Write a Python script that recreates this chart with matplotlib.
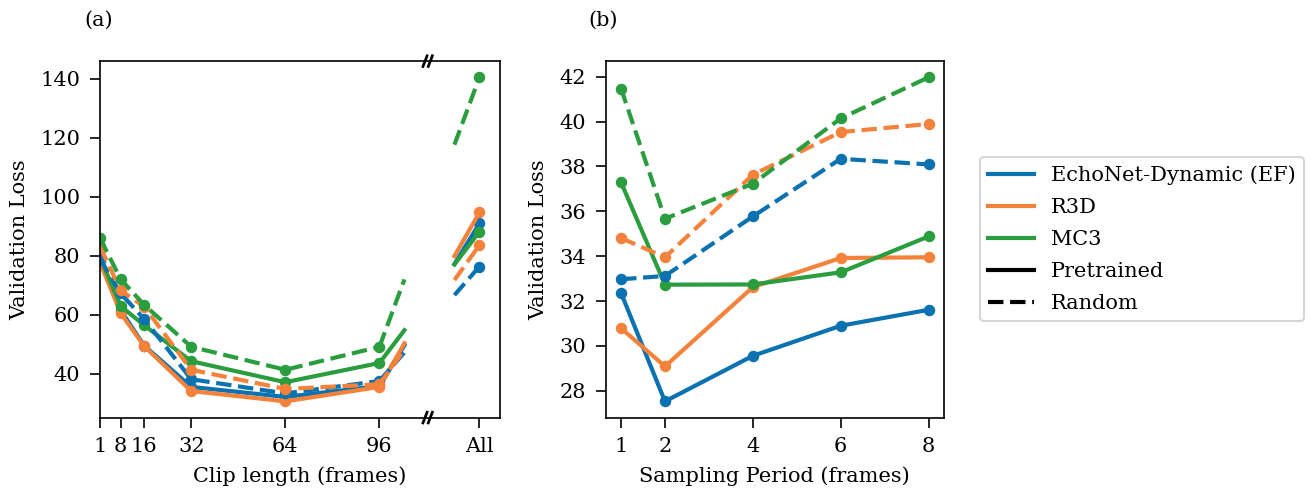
import numpy as np
import matplotlib
matplotlib.use("Agg")
import matplotlib.pyplot as plt
from matplotlib.lines import Line2D

plt.rcParams['font.family'] = ['DejaVu Serif']
plt.rcParams['font.size'] = 10
plt.rcParams['xtick.major.size'] = 5
plt.rcParams['ytick.major.size'] = 5
plt.rcParams['xtick.major.pad'] = 4.5
plt.rcParams['ytick.major.pad'] = 4.5
plt.rcParams['axes.labelpad'] = 5

# (a) clip length sweep
clip_lengths = [1, 8, 16, 32, 64, 96]
clip_labels = ["1", "8", "16", "32", "64", "96", "All"]
all_pos = 130  # where "All" sits on the x axis
clip_loss = {
    ("EchoNet-Dynamic (EF)", "Pretrained"): [78.2, 61.6, 49.6, 35.6, 32.2, 35.9, 91.0],
    ("R3D", "Pretrained"): [77.8, 60.6, 49.4, 34.2, 30.7, 35.6, 94.7],
    ("MC3", "Pretrained"): [79.6, 63.0, 56.5, 44.3, 37.2, 43.7, 88.2],
    ("EchoNet-Dynamic (EF)", "Random"): [79.0, 67.3, 58.6, 38.2, 33.4, 37.6, 76.4],
    ("R3D", "Random"): [83.2, 68.3, 62.8, 41.4, 34.9, 36.5, 83.6],
    ("MC3", "Random"): [86.0, 72.1, 63.4, 49.2, 41.4, 49.2, 140.5],
}

# (b) sampling period sweep
periods = [1, 2, 4, 6, 8]
period_loss = {
    ("EchoNet-Dynamic (EF)", "Pretrained"): [32.36, 27.53, 29.56, 30.90, 31.61],
    ("R3D", "Pretrained"): [30.79, 29.09, 32.62, 33.92, 33.95],
    ("MC3", "Pretrained"): [37.29, 32.73, 32.74, 33.28, 34.88],
    ("EchoNet-Dynamic (EF)", "Random"): [32.97, 33.12, 35.77, 38.34, 38.09],
    ("R3D", "Random"): [34.81, 33.95, 37.63, 39.53, 39.89],
    ("MC3", "Random"): [41.47, 35.67, 37.23, 40.14, 41.97],
}

models = ["EchoNet-Dynamic (EF)", "R3D", "MC3"]
colors = {"EchoNet-Dynamic (EF)": "#0a72b0", "R3D": "#f5823a", "MC3": "#2a9d3f"}
styles = {"Pretrained": "-", "Random": "--"}
lw, ms = 2.0, 4.5

fig = plt.figure(figsize=(1311 / 150, 493 / 150), dpi=150)
ax1 = fig.add_axes([0.0763, 0.153, 0.3051, 0.723])
ax2 = fig.add_axes([0.462, 0.153, 0.258, 0.723])

gap = 0.25
for (model, init), y in clip_loss.items():
    c, ls = colors[model], styles[init]
    ax1.plot(clip_lengths, y[:6], ls, color=c, lw=lw, marker="o", markersize=ms)
    # stubs of the segment 96 -> All around the axis break
    x0, y0, x1, y1 = clip_lengths[-1], y[5], all_pos, y[6]
    ax1.plot([x0, x0 + gap * (x1 - x0)], [y0, y0 + gap * (y1 - y0)], ls, color=c, lw=lw)
    ax1.plot([x1 - gap * (x1 - x0), x1], [y1 - gap * (y1 - y0), y1], ls, color=c, lw=lw)
    ax1.plot([x1], [y1], "o", color=c, markersize=ms)

ax1.set_xlim(1, 137)
ax1.set_xticks(clip_lengths + [all_pos])
ax1.set_xticklabels(clip_labels)
ax1.set_yticks([40, 60, 80, 100, 120, 140])
ax1.set_xlabel("Clip length (frames)")
ax1.set_ylabel("Validation Loss")

# break marks on top and bottom spine
brk = 112.4
for yy in (0, 1):
    for dx in (-0.9, 0.9):
        ax1.plot([brk + dx - 0.7, brk + dx + 0.7], [yy - 0.015, yy + 0.015], color="black",
                 lw=1.3, transform=ax1.get_xaxis_transform(), clip_on=False)

for (model, init), y in period_loss.items():
    ax2.plot(periods, y, styles[init], color=colors[model], lw=lw, marker="o", markersize=ms)
ax2.set_xticks(periods)
ax2.set_yticks([28, 30, 32, 34, 36, 38, 40, 42])
ax2.set_xlabel("Sampling Period (frames)")
ax2.set_ylabel("Validation Loss")

fig.text(99 / 1311, 1 - 20 / 493, "(a)", ha="center", va="center")
fig.text(603 / 1311, 1 - 20 / 493, "(b)", ha="center", va="center")

handles = [Line2D([], [], color=colors[m], lw=lw) for m in models]
handles += [Line2D([], [], color="black", ls="-", lw=lw), Line2D([], [], color="black", ls="--", lw=lw)]
labels = models + ["Pretrained", "Random"]
fig.legend(handles, labels, loc="upper left", bbox_to_anchor=(980 / 1311, 1 - 157.3 / 493),
           bbox_transform=fig.transFigure, borderaxespad=0, handlelength=2.2, labelspacing=0.62)

fig.savefig("out.png", dpi=150)
